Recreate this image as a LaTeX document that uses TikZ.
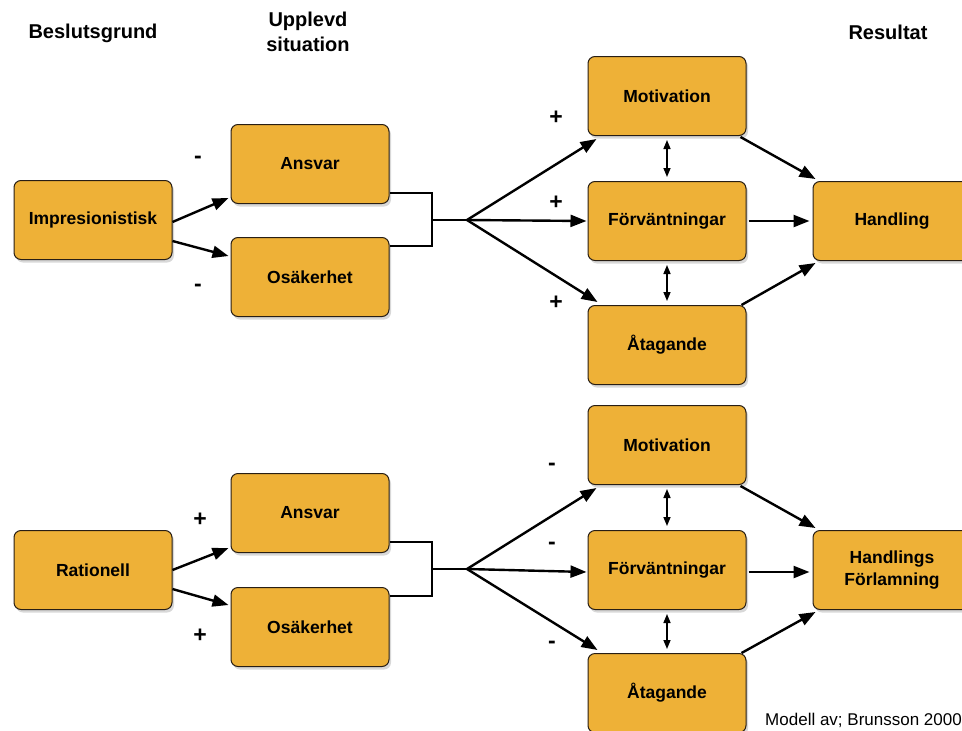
\documentclass[tikz,border=0pt]{standalone}
\usepackage{fontspec}
\setmainfont{Liberation Sans}
\usetikzlibrary{arrows.meta,shadows,calc}
\definecolor{boxfill}{RGB}{238,177,55}
\definecolor{boxline}{RGB}{40,30,20}
\tikzset{
  box/.style={draw=boxline, line width=1pt, fill=boxfill, rounded corners=7pt,
    minimum width=158pt, minimum height=79pt, inner sep=0pt, align=center,
    font=\bfseries\fontsize{17.5}{22}\selectfont,
    drop shadow={shadow xshift=2pt, shadow yshift=-3pt, opacity=0.3}},
  head/.style={font=\bfseries\fontsize{20}{25}\selectfont, align=center, inner sep=0pt},
  sign/.style={font=\bfseries\fontsize{23}{24}\selectfont, inner sep=0pt},
  arr/.style={line width=2.4pt, -{Triangle[length=16pt,width=12pt]}},
  dbl/.style={line width=1.5pt, {Triangle[length=9pt,width=7pt]}-{Triangle[length=9pt,width=7pt]}, shorten >=4pt, shorten <=4pt},
  brk/.style={line width=2pt},
}
\begin{document}
\begin{tikzpicture}[x=1pt,y=-1pt]
\useasboundingbox (0,0) rectangle (962,731);
\clip (0,0) rectangle (962,731);
\fill[white] (0,0) rectangle (962,731);

% headers
\node[head] (h1) at (93,33) {Beslutsgrund};
\node[head] (h2) at (308,32) {Upplevd\\situation};
\node[head] (h3) at (888,32) {Resultat};

% ---------- top ----------
\node[box] (imp) at (93,220) {Impresionistisk};
\node[box] (ans1) at (310,164) {Ansvar};
\node[box] (osa1) at (310,277) {Osäkerhet};
\node[box] (mot1) at (667,96) {Motivation};
\node[box] (forv1) at (667,221) {Förväntningar};
\node[box] (ata1) at (667,345) {Åtagande};
\node[box] (hand1) at (892,221) {Handling};

\coordinate (br1) at (432,220);
\coordinate (fan1) at (467,220);

\draw[arr] ($(imp.east)+(0,2)$) -- ($(ans1.south west)+(-2,-6)$);
\draw[arr] ($(imp.east)+(0,21)$) -- ($(osa1.north west)+(-2,19)$);
\draw[brk] ($(ans1.east)+(0,29)$) -| ($(br1)+(0,26)$) -- ($(osa1.east)+(0,-31)$);
\draw[brk] (br1) -- (fan1);
\draw[arr] (fan1) -- ($(mot1.south west)+(9,3)$);
\draw[arr] (fan1) -- ($(forv1.west)+(-1,0)$);
\draw[arr] (fan1) -- ($(ata1.north west)+(10,-3)$);
\draw[arr] ($(mot1.south east)+(-6,1)$) -- ($(hand1.north west)+(3,-2)$);
\draw[arr] ($(forv1.east)+(2,0)$) -- ($(hand1.west)+(-3,0)$);
\draw[arr] ($(ata1.north east)+(-5,0)$) -- ($(hand1.south west)+(3,2)$);
\draw[dbl] (mot1.south) -- (forv1.north);
\draw[dbl] (forv1.south) -- (ata1.north);

\node[sign] (m1) at (198,160) {-};
\node[sign] (m2) at (198,288) {-};
\node[sign] (p1) at (556,118) {+};
\node[sign] (p2) at (556,203) {+};
\node[sign] (p3) at (556,303) {+};

% ---------- bottom ----------
\node[box] (rat) at (93,570) {Rationell};
\node[box] (ans2) at (310,513) {Ansvar};
\node[box] (osa2) at (310,627) {Osäkerhet};
\node[box] (mot2) at (667,445) {Motivation};
\node[box] (forv2) at (667,570) {Förväntningar};
\node[box] (ata2) at (667,693) {Åtagande};
\node[box] (hand2) at (892,570) {Handlings\\Förlamning};

\coordinate (br2) at (432,569);
\coordinate (fan2) at (467,569);

\draw[arr] ($(rat.east)+(0,0)$) -- ($(ans2.south west)+(-2,-5)$);
\draw[arr] ($(rat.east)+(0,19)$) -- ($(osa2.north west)+(-2,18)$);
\draw[brk] ($(ans2.east)+(0,29)$) -| ($(br2)+(0,27)$) -- ($(osa2.east)+(0,-31)$);
\draw[brk] (br2) -- (fan2);
\draw[arr] (fan2) -- ($(mot2.south west)+(9,3)$);
\draw[arr] (fan2) -- ($(forv2.west)+(-1,2)$);
\draw[arr] (fan2) -- ($(ata2.north west)+(10,-3)$);
\draw[arr] ($(mot2.south east)+(-6,1)$) -- ($(hand2.north west)+(3,-2)$);
\draw[arr] ($(forv2.east)+(2,2)$) -- ($(hand2.west)+(-3,2)$);
\draw[arr] ($(ata2.north east)+(-5,0)$) -- ($(hand2.south west)+(3,2)$);
\draw[dbl] (mot2.south) -- (forv2.north);
\draw[dbl] (forv2.south) -- (ata2.north);

\node[sign] (p4) at (200,520) {+};
\node[sign] (p5) at (200,636) {+};
\node[sign] (m3) at (552,467) {-};
\node[sign] (m4) at (552,546) {-};
\node[sign] (m5) at (552,645) {-};

\node[anchor=east, inner sep=0pt, font=\fontsize{17}{20}\selectfont] (note) at (962,720) {Modell av; Brunsson 2000};
\end{tikzpicture}
\end{document}
